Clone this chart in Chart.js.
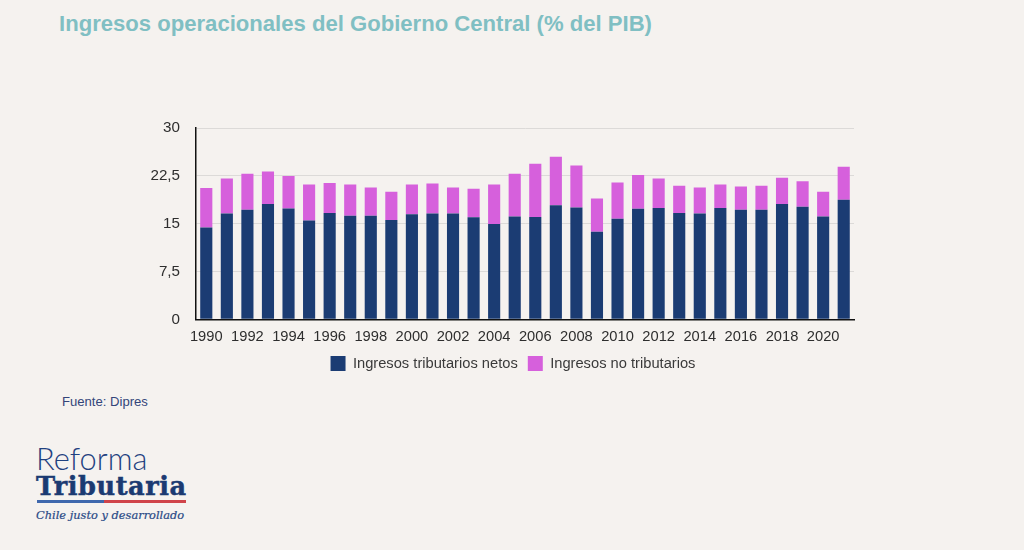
<!DOCTYPE html>
<html lang="es">
<head>
<meta charset="utf-8">
<script src="https://cdn.jsdelivr.net/npm/chart.js@4"></script>
<style>
html,body{margin:0;padding:0;background:#f5f2ef;width:1024px;height:550px;overflow:hidden}
body{position:relative;font-family:"Liberation Sans",sans-serif}
.t{position:absolute;white-space:nowrap}
#title{left:59px;top:10px;font-size:22.1px;line-height:28px;color:#80bfc3;font-weight:bold}
#src{left:62px;top:394px;font-size:13.1px;line-height:16px;color:#33457a}
#wrap{position:absolute;left:150px;top:103px;width:724px;height:284px}
#l1{left:36px;top:443px;font-size:30.8px;line-height:32px;color:#1f4180;font-family:"Lato","Liberation Sans",sans-serif;font-weight:300}
#l2{left:36px;top:471px;font-size:25.6px;line-height:30px;color:#1b3a72;font-family:"DejaVu Serif",serif;font-weight:bold;letter-spacing:.55px;-webkit-text-stroke:.5px #1b3a72}
#bar1{position:absolute;left:37px;top:500px;width:67px;height:3px;background:#3f68ad}
#bar2{position:absolute;left:104px;top:500px;width:82px;height:3px;background:#d0444a}
#l3{left:36px;top:507px;font-size:11.4px;line-height:16px;color:#2a4a86;font-family:"DejaVu Serif",serif;font-style:italic;-webkit-text-stroke:.2px #2a4a86}
</style>
</head>
<body>
<div class="t" id="title">Ingresos operacionales del Gobierno Central (% del PIB)</div>
<div id="wrap"><canvas id="c" width="724" height="284"></canvas></div>
<div class="t" id="src">Fuente: Dipres</div>
<div class="t" id="l1">Reforma</div>
<div class="t" id="l2">Tributaria</div>
<div id="bar1"></div><div id="bar2"></div>
<div class="t" id="l3">Chile justo y desarrollado</div>
<script>
const years = [1990,1991,1992,1993,1994,1995,1996,1997,1998,1999,2000,2001,2002,2003,2004,2005,2006,2007,2008,2009,2010,2011,2012,2013,2014,2015,2016,2017,2018,2019,2020,2021];
const tributarios = [14.4,16.6,17.2,18.1,17.4,15.5,16.7,16.25,16.25,15.6,16.5,16.6,16.6,16,14.95,16.15,16.05,17.9,17.55,13.75,15.8,17.35,17.45,16.7,16.6,17.45,17.2,17.2,18.1,17.65,16.15,18.75];
const noTributarios = [6.2,5.5,5.65,5.1,5.1,5.65,4.7,4.9,4.45,4.4,4.65,4.7,4.1,4.5,6.2,6.7,8.35,7.6,6.6,5.2,5.65,5.3,4.65,4.25,4.1,3.7,3.65,3.75,4.1,4.0,3.85,5.2];
const yTicks = [0,7.5,15,22.5,30];
const xFont = {family:'"Liberation Sans",sans-serif',size:14.7};
const yFont = {family:'"Liberation Sans",sans-serif',size:15.2};
const widenYLabelArea = {id:'widenYLabelArea',afterLayout(chart){chart.scales.y.left-=22;}};
new Chart(document.getElementById('c'),{
  type:'bar',
  plugins:[widenYLabelArea],
  data:{labels:years,datasets:[
    {label:'Ingresos tributarios netos',data:tributarios,backgroundColor:'#1b3c73',categoryPercentage:1,barPercentage:.59},
    {label:'Ingresos no tributarios',data:noTributarios,backgroundColor:'#d660dc',categoryPercentage:1,barPercentage:.59}
  ]},
  options:{
    responsive:false,animation:false,
    layout:{padding:{left:22,right:20,top:8,bottom:6}},
    plugins:{
      tooltip:{enabled:false},
      title:{display:false},
      legend:{display:true,position:'bottom',
        labels:{boxWidth:15,boxHeight:15,padding:10,color:'#3a3a3a',font:{family:'"Liberation Sans",sans-serif',size:14.7}}}
    },
    scales:{
      x:{stacked:true,offset:true,
        afterFit(s){s.height-=9;},
        grid:{display:false,drawTicks:false},
        border:{color:'#111',width:1.5},
        ticks:{autoSkip:false,maxRotation:0,minRotation:0,padding:9,color:'#2e2e2e',font:xFont,
          callback(v,i){return i%2===0?years[i]:'';}}},
      y:{stacked:true,min:0,max:30,
        afterFit(s){s.width=24;},
        afterBuildTicks(s){s.ticks=yTicks.map(value=>({value}));},
        grid:{color:'#dcdad8',lineWidth:1,drawTicks:false},
        border:{color:'#111',width:1.5},
        ticks:{padding:16,color:'#2e2e2e',font:yFont,
          callback(v){return String(v).replace('.',',');}}}
    }
  }
});
</script>
</body>
</html>
